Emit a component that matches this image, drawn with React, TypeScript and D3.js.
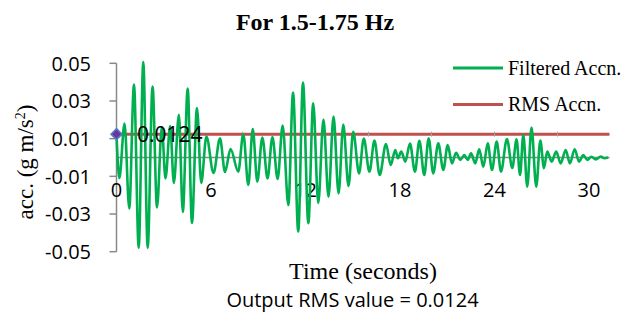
import React from "react";
import * as d3 from "d3";

// ---- data ----
const sigTime = [
  0, 0.18, 0.51, 0.81, 1.11, 1.41, 1.70, 1.98, 2.29, 2.57, 2.88, 3.11, 3.41, 3.64, 3.96, 4.21, 4.52, 4.79, 5.11, 5.38,
  5.71, 6.16, 6.57, 6.89, 7.24, 7.73, 8.05, 8.37, 8.65, 8.94, 9.26, 9.59, 9.90, 10.23, 10.55, 10.91, 11.21, 11.54, 11.84, 12.18,
  12.49, 12.81, 13.14, 13.46, 13.78, 14.10, 14.40, 14.73, 15.03, 15.40, 15.70, 16.06, 16.38, 16.71, 17.11, 17.41, 17.70, 17.87, 18.08, 18.34,
  18.63, 18.95, 19.23, 19.54, 19.82, 20.11, 20.43, 20.75, 21.03, 21.30, 21.56, 21.83, 22.08, 22.30, 22.51, 22.78, 23.03, 23.29, 23.57, 23.84,
  24.14, 24.41, 24.79, 25.13, 25.40, 25.62, 25.83, 26.08, 26.35, 26.65, 26.91, 27.14, 27.35, 27.63, 27.92, 28.20, 28.52, 28.79, 29.09, 29.37,
  29.64, 29.89, 30.15, 30.43, 30.74, 30.98, 31.21,
];
const sigValue = [
  0.0120, -0.0110, 0.0180, -0.0270, 0.0387, -0.0479, 0.0507, -0.0479, 0.0377, -0.0265, 0.0162, -0.0111, 0.0167, -0.0135, 0.0226, -0.0289, 0.0366, -0.0348, 0.0263, -0.0135,
  0.0111, -0.0082, 0.0102, -0.0077, 0.0045, -0.0075, 0.0125, -0.0146, 0.0151, -0.0128, 0.0106, -0.0111, 0.0109, -0.0114, 0.0170, -0.0252, 0.0345, -0.0393, 0.0398, -0.0349,
  0.0288, -0.0242, 0.0202, -0.0208, 0.0217, -0.0191, 0.0175, -0.0151, 0.0137, -0.0084, 0.0101, -0.0075, 0.0090, -0.0093, 0.0072, -0.0040, 0.0040, -0.0004, 0.0031, -0.0022,
  0.0074, -0.0075, 0.0089, -0.0093, 0.0102, -0.0084, 0.0075, -0.0066, 0.0066, -0.0031, 0.0025, -0.0013, 0.0013, -0.0013, 0.0022, -0.0031, 0.0044, -0.0049, 0.0075, -0.0066,
  0.0084, -0.0075, 0.0098, -0.0056, 0.0096, -0.0093, 0.0119, -0.0155, 0.0159, -0.0155, 0.0090, -0.0057, 0.0031, -0.0022, 0.0031, -0.0031, 0.0040, -0.0031, 0.0044, -0.0022,
  0.0013, -0.0013, 0.0004, -0.0010, 0.0005, -0.0004, 0.0000,
];
const rmsTime = [0, 31.3];
const rmsValue = 0.0124;
const yTicks = [0.05, 0.03, 0.01, -0.01, -0.03, -0.05];
const xTicks = [0, 6, 12, 18, 24, 30];
const minorMarks = [4, 8, 12, 16, 20, 24, 28];

const W = 623;
const H = 320;
const SERIF = '"Liberation Serif", "Times New Roman", serif';
const SANS = '"Open Sans", "Noto Sans", sans-serif';

export default function App() {
  const x = d3.scaleLinear().domain([0, 30]).range([116.5, 589]);
  const y = d3.scaleLinear().domain([-0.05, 0.05]).range([251.7, 63.3]);

  const pts: [number, number][] = sigTime.map((t, i) => [t, sigValue[i]]);
  const line = d3
    .line<[number, number]>()
    .x((d) => x(d[0]))
    .y((d) => y(d[1]))
    .curve(d3.curveMonotoneX);

  const x0 = x(0);
  const xEnd = x(rmsTime[1]);
  const yR = y(rmsValue);

  return (
    <svg
      width={W}
      height={H}
      style={{ position: "absolute", left: 0, top: 0, background: "#fff" }}
    >
      <rect x={0} y={0} width={W} height={H} fill="#fff" />
      {/* title */}
      <text x={315} y={30} textAnchor="middle" fontFamily={SERIF} fontWeight="bold" fontSize={24} fill="#000">
        For 1.5-1.75 Hz
      </text>

      {/* y axis */}
      <line x1={x0} x2={x0} y1={y(0.05)} y2={y(-0.05)} stroke="#898989" strokeWidth={1.5} />
      {yTicks.map((v) => (
        <g key={v}>
          <line x1={x0 - 7} x2={x0} y1={y(v)} y2={y(v)} stroke="#898989" strokeWidth={1.5} />
          <text x={91} y={y(v)} dy="0.36em" textAnchor="end" fontFamily={SANS} fontSize={20} fill="#000">
            {v.toFixed(2)}
          </text>
        </g>
      ))}

      {/* zero axis */}
      <line x1={x0} x2={xEnd} y1={y(0)} y2={y(0)} stroke="#898989" strokeWidth={1.5} />
      {xTicks.map((t) => (
        <text key={t} x={x(t)} y={197} textAnchor="middle" fontFamily={SANS} fontSize={20} fill="#000">
          {t}
        </text>
      ))}

      {/* RMS line */}
      <line x1={x(rmsTime[0])} x2={xEnd} y1={yR} y2={yR} stroke="#c0504d" strokeWidth={3} />
      {minorMarks.map((t) => (
        <line key={t} x1={x(t)} x2={x(t)} y1={yR - 2.5} y2={yR + 2.5} stroke="#a8a0a0" strokeWidth={1} />
      ))}

      {/* filtered signal */}
      <path d={line(pts) || ""} fill="none" stroke="#00b050" strokeWidth={2.6} strokeLinejoin="round" />

      {/* marker + label */}
      <path
        d={`M${x0},${yR - 5.5} L${x0 + 5.5},${yR} L${x0},${yR + 5.5} L${x0 - 5.5},${yR} Z`}
        fill="#7030a0"
        stroke="#4f81bd"
        strokeWidth={1.5}
      />
      <text x={137} y={142} fontFamily={SANS} fontSize={21} fill="#000">
        {rmsValue.toFixed(4)}
      </text>

      {/* legend */}
      <line x1={453} x2={503} y1={68} y2={68} stroke="#00b050" strokeWidth={3} />
      <text x={508} y={75} fontFamily={SERIF} fontSize={20} fill="#000">
        Filtered Accn.
      </text>
      <line x1={453} x2={503} y1={104.5} y2={104.5} stroke="#c0504d" strokeWidth={3} />
      <text x={508} y={111} fontFamily={SERIF} fontSize={20} fill="#000">
        RMS Accn.
      </text>

      {/* axis titles */}
      <text x={363} y={279} textAnchor="middle" fontFamily={SERIF} fontSize={24} fill="#000">
        Time (seconds)
      </text>
      <text
        transform="translate(33,162) rotate(-90)"
        textAnchor="middle"
        fontFamily={SERIF}
        fontSize={23}
        fill="#000"
      >
        acc. (g m/s<tspan dy="-8" fontSize={14}>2</tspan>
        <tspan dy="8">)</tspan>
      </text>
      <text x={352.5} y={307} textAnchor="middle" fontFamily={SANS} fontSize={20} fill="#000">
        Output RMS value = 0.0124
      </text>
    </svg>
  );
}
